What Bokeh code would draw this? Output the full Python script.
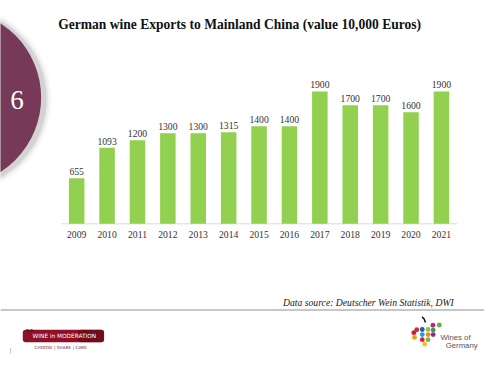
from bokeh.plotting import figure
from bokeh.models import Range1d
from bokeh.core.properties import value
from bokeh.embed import file_html
from bokeh.resources import INLINE

# ---- data ----
years = [2009, 2010, 2011, 2012, 2013, 2014, 2015, 2016, 2017, 2018, 2019, 2020, 2021]
year_labels = ["2009", "2010", "2011", "2012", "2013", "2014", "2015", "2016",
               "2017", "2018", "2019", "2020", "2021"]
export_values = [655, 1093, 1200, 1300, 1300, 1315, 1400, 1400, 1900, 1700, 1700, 1600, 1900]
value_labels = [str(v) for v in export_values]
title_text = "German wine Exports to Mainland China (value 10,000 Euros)"
source_text = "Data source: Deutscher Wein Statistik, DWI"
slide_number = "6"

# ---- layout constants (slide is designed on a 500x374 grid, drawn at 484x358) ----
REF_W, REF_H = 500, 374
W, H = 484, 358
S = W / REF_W
X0_PX, STEP_PX = 78.7, 31.4      # centre of first bar, spacing between bars (slide grid)
BASE_PX, PX_PER_UNIT = 233.3, 0.0728


def fs(px):
    return f"{px * S:.2f}px"


p = figure(width=W, height=H, output_backend="svg", toolbar_location=None,
           x_axis_type=None, y_axis_type=None,
           x_range=Range1d(years[0] - X0_PX / STEP_PX, years[0] + (REF_W - X0_PX) / STEP_PX),
           y_range=Range1d(-(REF_H - BASE_PX) / PX_PER_UNIT, BASE_PX / PX_PER_UNIT),
           min_border=0)
p.min_border_left = p.min_border_right = p.min_border_top = p.min_border_bottom = 0
p.extra_x_ranges = {"px": Range1d(0, REF_W)}
p.extra_y_ranges = {"py": Range1d(REF_H, 0)}
p.grid.visible = False
p.outline_line_color = None
p.background_fill_color = "white"
p.border_fill_color = "white"

PX = dict(x_range_name="px", y_range_name="py")

# slide number circle with soft shadow
for k, a in [(7, 0.03), (5, 0.05), (3, 0.08), (1.5, 0.12)]:
    p.circle(x=[-45], y=[103], radius=91 + k, fill_color="#555555", fill_alpha=a,
             line_color=None, **PX)
p.circle(x=[-49], y=[101.5], radius=91, fill_color="#763958", line_color=None, **PX)
p.text(x=[17], y=[104], text=[slide_number], text_color="white",
       text_font=value("Liberation Serif"), text_font_size=fs(28),
       text_align="center", text_baseline="middle", **PX)

# title
p.text(x=[247], y=[25], text=[title_text], text_color="#111111",
       text_font=value("Liberation Serif"), text_font_style="bold",
       text_font_size=fs(14), text_align="center", text_baseline="middle", **PX)

# baseline
p.segment(x0=[63], x1=[472], y0=[BASE_PX], y1=[BASE_PX], line_color="#d9d9d9",
          line_width=1, **PX)

# bars
p.vbar(x=years, top=export_values, bottom=0, width=0.51, fill_color="#92D050",
       line_color=None)

# value labels
p.text(x=years, y=export_values, text=value_labels, text_color="#333333",
       text_font=value("Liberation Serif"), text_font_size=fs(10),
       text_align="center", text_baseline="bottom", y_offset=-3)

# year labels
p.text(x=years, y=[244.7] * len(years), text=year_labels, text_color="#333333",
       text_font=value("Liberation Serif"), text_font_size=fs(10),
       text_align="center", text_baseline="middle", y_range_name="py")

# source note and footer line
p.text(x=[380], y=[315.7], text=[source_text], text_color="#222222",
       text_font=value("Liberation Serif"), text_font_style="italic",
       text_font_size=fs(10), text_align="center", text_baseline="middle", **PX)
p.segment(x0=[0], x1=[500], y0=[323.3], y1=[323.3], line_color="#b5b5b5",
          line_width=1.5, **PX)

# Wine in Moderation logo
p.quad(left=[23], right=[107], top=[344], bottom=[357], fill_color="#8e1022",
       line_color=None, border_radius=3, **PX)
p.quad(left=[80], right=[107], top=[344], bottom=[357], fill_color="#5f0a16",
       fill_alpha=0.6, line_color=None, border_radius=3, **PX)
p.circle(x=[28, 32], y=[345, 345], radius=1.5, fill_color="#6a0a14", line_color=None, **PX)
p.text(x=[66], y=[350.8], text=["WINE in MODERATION"], text_color="white",
       text_font=value("DejaVu Sans"), text_font_size=fs(6),
       text_align="center", text_baseline="middle", **PX)
p.text(x=[65], y=[362], text=["CHOOSE  |  SHARE  |  CARE"], text_color="#7a2535",
       text_font=value("DejaVu Sans"), text_font_size=fs(4.4),
       text_align="center", text_baseline="middle", **PX)
p.segment(x0=[10.5], x1=[10.5], y0=[363], y1=[369], line_color="#c0c0c0", **PX)

# Wines of Germany logo
p.line(x=[435.5, 437.5, 439], y=[330.5, 332.5, 336.5], line_color="#111111",
       line_width=1.5, **PX)
dot_x = [446.7, 453.3, 430, 435.7, 441.7, 447, 427, 435.7, 441.7, 447, 427.7, 435.7, 441.7, 438.3]
dot_y = [339.3, 339, 344, 343.7, 343.7, 344.3, 347, 349, 349, 349, 352, 354.3, 354.3, 359]
dot_c = ["#d81b7a", "#5bb348", "#d42a2a", "#1f5fb0", "#8dc63f", "#2aa055", "#c8202f",
         "#2b9bd6", "#f08a1c", "#8a2a8a", "#e3a21a", "#d8232a", "#7ab648", "#f5c21b"]
p.scatter(x=dot_x, y=dot_y, size=5 * S, fill_color=dot_c, line_color=None, **PX)
p.text(x=[454.5], y=[352], text=["Wines of"], text_color="#555555",
       text_font=value("Liberation Sans"), text_font_size=fs(8),
       text_align="left", text_baseline="middle", **PX)
p.text(x=[460], y=[360], text=["Germany"], text_color="#555555",
       text_font=value("Liberation Sans"), text_font_size=fs(8),
       text_align="left", text_baseline="middle", **PX)

open("out.html", "w").write(file_html(p, INLINE))
